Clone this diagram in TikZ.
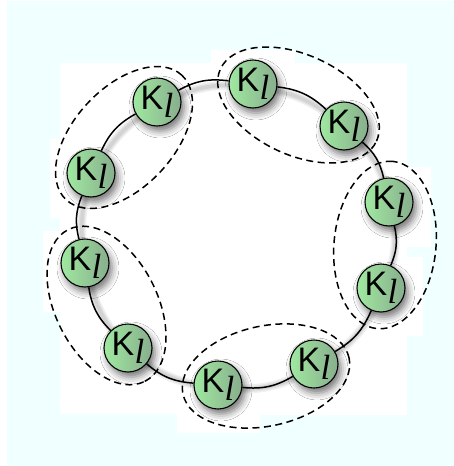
\documentclass[tikz,border=0pt]{standalone}
\usepackage{fontspec}
\newfontfamily\ksans{Liberation Sans}
\newfontfamily\lserif{Liberation Serif}
\usetikzlibrary{shadows.blur}
\definecolor{bgcyan}{RGB}{240,255,255}
\definecolor{nodeL}{RGB}{160,232,160}
\definecolor{nodeR}{RGB}{136,174,141}
\newcommand{\Klabel}{\scalebox{3.4}{\ksans K}\kern0.3pt\raisebox{-8.5pt}{\scalebox{3.5}{\lserif\itshape l}}}
\pgfdeclarelayer{back}
\pgfsetlayers{back,main}
\tikzset{
  knode/.style={circle, draw=black, line width=1.1pt, minimum size=48pt, inner sep=0pt,
    left color=nodeL, right color=nodeR,
    blur shadow={shadow xshift=3pt, shadow yshift=-5pt, shadow blur radius=7pt, shadow opacity=55}},
  ringline/.style={line width=1.5pt, black},
  ringshadow/.style={line width=#1, black, opacity=0.06, line cap=round},
  grp/.style={line width=1.5pt, dash pattern=on 7pt off 4.5pt, black}
}
\begin{document}
\begin{tikzpicture}[x=1pt,y=1pt]
\useasboundingbox (0,0) rectangle (454,-466);
% nodes
\node[knode] (n1) at (157,-102) {\Klabel};
\node[knode] (n2) at (91,-173) {\Klabel};
\node[knode] (n3) at (85,-263) {\Klabel};
\node[knode] (n4) at (128,-348) {\Klabel};
\node[knode] (n5) at (218,-385) {\Klabel};
\node[knode] (n6) at (314,-364) {\Klabel};
\node[knode] (n7) at (381,-288) {\Klabel};
\node[knode] (n8) at (389,-202) {\Klabel};
\node[knode] (n9) at (344,-126) {\Klabel};
\node[knode] (n10) at (253,-84) {\Klabel};
\begin{pgfonlayer}{back}
  \fill[white] (0,0) rectangle (454,-466);
  \fill[bgcyan] (7,-1) rectangle (454,-466);
  \fill[white] (60,-63) -- (211,-63) -- (211,-50) -- (295,-50) -- (295,-63) -- (407,-63)
    -- (407,-167) -- (431,-167) -- (431,-247) -- (407,-247) -- (407,-257) -- (423,-257)
    -- (423,-336) -- (407,-336) -- (407,-415) -- (260,-415) -- (260,-433) -- (177,-433)
    -- (177,-414) -- (60,-414) -- (60,-312) -- (43,-312) -- (43,-231) -- (60,-231)
    -- (60,-218) -- (50,-218) -- (50,-139) -- (60,-139) -- cycle;
  \foreach \w in {9pt,6pt,3.5pt}{
    \draw[ringshadow=\w] ([xshift=2pt,yshift=-3pt]n8.center) to[bend right=18] ([xshift=2pt,yshift=-3pt]n9.center)
      to[bend right=18] ([xshift=2pt,yshift=-3pt]n10.center)
      to[bend right=18] ([xshift=2pt,yshift=-3pt]n1.center)
      to[bend right=18] ([xshift=2pt,yshift=-3pt]n2.center)
      to[bend right=18] ([xshift=2pt,yshift=-3pt]n3.center)
      to[bend right=18] ([xshift=2pt,yshift=-3pt]n4.center)
      to[bend right=18] ([xshift=2pt,yshift=-3pt]n5.center)
      to[bend right=18] ([xshift=2pt,yshift=-3pt]n6.center)
      to[bend right=18] ([xshift=2pt,yshift=-3pt]n7.center)
      to[bend right=18] ([xshift=2pt,yshift=-3pt]n8.center);
  }
\end{pgfonlayer}
% ring
\draw[ringline] (n8) to[bend right=18] (n9);
\draw[ringline] (n9) to[bend right=18] (n10);
\draw[ringline] (n10) to[bend right=18] (n1);
\draw[ringline] (n1) to[bend right=18] (n2);
\draw[ringline] (n2) to[bend right=18] (n3);
\draw[ringline] (n3) to[bend right=18] (n4);
\draw[ringline] (n4) to[bend right=18] (n5);
\draw[ringline] (n5) to[bend right=18] (n6);
\draw[ringline] (n6) to[bend right=18] (n7);
\draw[ringline] (n7) to[bend right=18] (n8);
% groups
\draw[grp, rotate around={47.1:(124,-137.5)}] (124,-137.5) ellipse (85 and 50);
\draw[grp, rotate around={-24.8:(298.5,-105)}] (298.5,-105) ellipse (86 and 50);
\draw[grp, rotate around={84.7:(385,-245)}] (385,-245) ellipse (84 and 51);
\draw[grp, rotate around={-63.2:(106.5,-305.5)}] (106.5,-305.5) ellipse (85 and 51);
\draw[grp, rotate around={12.3:(266,-376)}] (266,-376) ellipse (85 and 50);
\end{tikzpicture}
\end{document}
